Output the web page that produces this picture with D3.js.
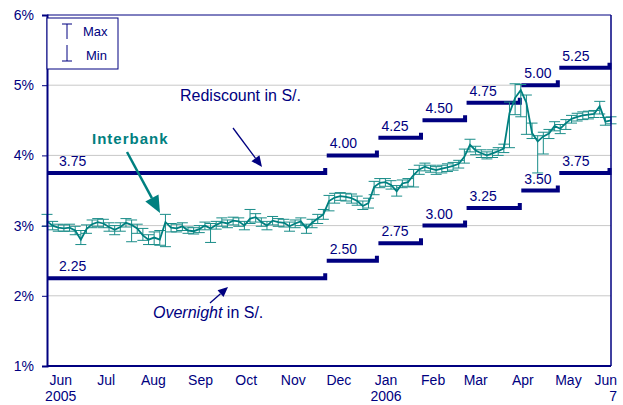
<!DOCTYPE html>
<html>
<head>
<meta charset="utf-8">
<script src="https://cdn.jsdelivr.net/npm/d3@7"></script>
<style>
  body { margin: 0; background: #fff; }
  svg text { font-family: "Liberation Sans", Arial, sans-serif; }
</style>
</head>
<body>
<svg id="chart" width="623" height="405"></svg>
<script>
// Interbank rate vs. BCRP corridor (rediscount / overnight), Jun 2005 - Jun 7 2006

var startDate = "2005-06-01",
    endDate = "2006-06-07";

// dates where the corridor rates changed (last one closes the final step)
var changeDates = ["2005-06-01", "2005-12-02", "2006-01-05", "2006-02-03",
                   "2006-03-04", "2006-04-09", "2006-05-04", "2006-06-07"];
var rediscount = [3.75, 4.00, 4.25, 4.50, 4.75, 5.00, 5.25];
var overnight  = [2.25, 2.50, 2.75, 3.00, 3.25, 3.50, 3.75];

// interbank rate: average, max and min, evenly spaced observations
var interbankAvg = [
  3.06, 3.00, 2.97, 2.96, 2.97, 2.93, 2.80, 2.95, 3.02, 3.05,
  3.03, 2.98, 2.94, 2.98, 3.04, 3.01, 2.96, 2.86, 2.80, 2.83,
  2.80, 3.05, 2.97, 2.96, 2.99, 2.93, 2.92, 2.95, 3.00, 2.96,
  3.01, 3.05, 3.03, 3.07, 3.06, 3.00, 3.10, 3.12, 3.05, 3.00,
  3.07, 3.05, 3.04, 2.99, 3.03, 3.06, 2.96, 3.04, 3.10, 3.16,
  3.35, 3.40, 3.42, 3.41, 3.39, 3.35, 3.28, 3.32, 3.55, 3.61,
  3.62, 3.58, 3.49, 3.60, 3.62, 3.72, 3.80, 3.84, 3.81, 3.79,
  3.81, 3.83, 3.85, 3.88, 3.98, 4.15, 4.07, 4.03, 4.00, 4.03,
  4.06, 4.10, 4.60, 4.82, 4.93, 4.75, 4.32, 4.20, 4.27, 4.31,
  4.42, 4.38, 4.46, 4.52, 4.55, 4.57, 4.58, 4.59, 4.70, 4.48,
  4.50];
var interbankMax = [
  3.16, 3.06, 3.02, 3.01, 3.02, 2.99, 2.93, 3.01, 3.08, 3.10,
  3.09, 3.04, 3.00, 3.04, 3.10, 3.08, 3.02, 2.96, 2.87, 2.91,
  2.93, 3.16, 3.03, 3.02, 3.04, 2.98, 2.97, 3.00, 3.05, 3.03,
  3.06, 3.11, 3.08, 3.12, 3.11, 3.06, 3.23, 3.17, 3.11, 3.06,
  3.13, 3.10, 3.09, 3.05, 3.08, 3.11, 3.02, 3.09, 3.16, 3.23,
  3.43, 3.46, 3.47, 3.46, 3.45, 3.42, 3.35, 3.39, 3.63, 3.67,
  3.67, 3.64, 3.57, 3.65, 3.67, 3.80, 3.86, 3.89, 3.86, 3.84,
  3.86, 3.88, 3.90, 3.93, 4.09, 4.23, 4.13, 4.08, 4.05, 4.08,
  4.11, 4.16, 4.76, 5.02, 5.01, 4.86, 4.46, 4.28, 4.33, 4.37,
  4.48, 4.44, 4.51, 4.57, 4.60, 4.62, 4.63, 4.64, 4.77, 4.54,
  4.55];
var interbankMin = [
  2.99, 2.94, 2.92, 2.92, 2.92, 2.87, 2.73, 2.89, 2.97, 2.99,
  2.97, 2.92, 2.87, 2.92, 2.98, 2.77, 2.89, 2.79, 2.73, 2.73,
  2.72, 2.70, 2.91, 2.91, 2.93, 2.89, 2.88, 2.90, 2.94, 2.76,
  2.95, 2.99, 2.97, 3.01, 2.99, 2.94, 3.03, 3.05, 2.99, 2.94,
  3.01, 2.99, 2.98, 2.92, 2.97, 3.00, 2.89, 2.97, 3.03, 3.09,
  3.21, 3.32, 3.36, 3.35, 3.32, 3.29, 3.23, 3.25, 3.44, 3.54,
  3.56, 3.52, 3.42, 3.54, 3.56, 3.55, 3.73, 3.78, 3.76, 3.73,
  3.75, 3.77, 3.79, 3.82, 3.89, 4.05, 4.01, 3.97, 3.95, 3.97,
  4.00, 4.04, 4.11, 4.58, 4.55, 4.30, 4.24, 3.75, 4.02, 4.24,
  4.35, 4.31, 4.37, 4.46, 4.49, 4.51, 4.52, 4.54, 4.59, 4.43,
  4.45];

var yTicks = [1, 2, 3, 4, 5, 6];
var monthLabels = ["Jun", "Jul", "Aug", "Sep", "Oct", "Nov", "Dec",
                   "Jan", "Feb", "Mar", "Apr", "May"];
var yearLabels = ["2005", "", "", "", "", "", "", "2006", "", "", "", ""];
var endLabels = ["Jun", "7"];

var navy = "#000080",
    teal = "#008080";

var svg = d3.select("#chart"),
    margin = {top: 15, right: 12, bottom: 39, left: 47},
    width = +svg.attr("width") - margin.left - margin.right,
    height = +svg.attr("height") - margin.top - margin.bottom;

var parseDate = d3.timeParse("%Y-%m-%d"),
    t0 = parseDate(startDate),
    t1 = parseDate(endDate);

var x = d3.scaleTime().domain([t0, t1]).range([margin.left, margin.left + width]);
var y = d3.scaleLinear().domain([1, 6]).range([margin.top + height, margin.top]);

var obsDates = interbankAvg.map(function (d, i) {
  return new Date(+t0 + i * (t1 - t0) / (interbankAvg.length - 1));
});
var interbank = interbankAvg.map(function (v, i) {
  return {date: obsDates[i], avg: v, max: interbankMax[i], min: interbankMin[i]};
});

// gridlines
svg.append("g").selectAll("line")
  .data(yTicks.slice(1, -1))
  .enter().append("line")
    .attr("x1", margin.left).attr("x2", margin.left + width)
    .attr("y1", y).attr("y2", y)
    .attr("stroke", "#c8c8c8").attr("stroke-width", 1);

// corridor steps
function steps(values) {
  return values.map(function (v, i) {
    return {v: v, x0: parseDate(changeDates[i]), x1: parseDate(changeDates[i + 1]), i: i};
  });
}

function drawSteps(values) {
  var g = svg.append("g");
  var s = steps(values);
  g.selectAll("path")
    .data(s)
    .enter().append("path")
      .attr("d", function (d) {
        var yy = y(d.v), xe = x(d.x1) - 1.5;
        return "M" + x(d.x0) + "," + yy + "H" + xe + "V" + (yy - 5);
      })
      .attr("fill", "none")
      .attr("stroke", navy)
      .attr("stroke-width", 4);
  g.selectAll("text")
    .data(s)
    .enter().append("text")
      .attr("x", function (d) { return x(d.x0) + (d.i === 0 ? 12 : 3); })
      .attr("y", function (d) { return y(d.v) - 7; })
      .attr("fill", navy)
      .attr("font-size", 14)
      .text(function (d) { return d.v.toFixed(2); });
}
drawSteps(rediscount);
drawSteps(overnight);

// interbank error bars + line
var bars = svg.append("g")
  .attr("stroke", "#1a8d89")
  .attr("stroke-width", 1);
var bar = bars.selectAll("g")
  .data(interbank)
  .enter().append("g");
bar.append("line")
  .attr("x1", function (d) { return x(d.date); })
  .attr("x2", function (d) { return x(d.date); })
  .attr("y1", function (d) { return y(d.max); })
  .attr("y2", function (d) { return y(d.min); });
bar.append("line")
  .attr("x1", function (d) { return x(d.date) - 5.5; })
  .attr("x2", function (d) { return x(d.date) + 5.5; })
  .attr("y1", function (d) { return y(d.max); })
  .attr("y2", function (d) { return y(d.max); });
bar.append("line")
  .attr("x1", function (d) { return x(d.date) - 5.5; })
  .attr("x2", function (d) { return x(d.date) + 5.5; })
  .attr("y1", function (d) { return y(d.min); })
  .attr("y2", function (d) { return y(d.min); });

svg.append("path")
  .datum(interbank)
  .attr("fill", "none")
  .attr("stroke", teal)
  .attr("stroke-width", 1.8)
  .attr("d", d3.line()
    .x(function (d) { return x(d.date); })
    .y(function (d) { return y(d.avg); }));

// frame
svg.append("line")
  .attr("x1", margin.left).attr("x2", margin.left + width)
  .attr("y1", margin.top).attr("y2", margin.top)
  .attr("stroke", navy).attr("stroke-width", 1);
svg.append("line")
  .attr("x1", margin.left + width).attr("x2", margin.left + width)
  .attr("y1", margin.top).attr("y2", margin.top + height)
  .attr("stroke", navy).attr("stroke-width", 1.5);

// y axis
var yAxis = svg.append("g")
  .attr("transform", "translate(" + margin.left + ",0)")
  .call(d3.axisLeft(y).tickValues(yTicks).tickSize(5).tickPadding(8)
    .tickFormat(function (d) { return d + "%"; }));
yAxis.select(".domain").attr("stroke", navy).attr("stroke-width", 2);
yAxis.selectAll(".tick line").attr("stroke", navy);
yAxis.selectAll(".tick text")
  .attr("fill", navy)
  .attr("font-size", 14)
  .attr("font-family", "Liberation Sans, Arial, sans-serif");

// x axis
svg.append("line")
  .attr("x1", margin.left).attr("x2", margin.left + width)
  .attr("y1", margin.top + height).attr("y2", margin.top + height)
  .attr("stroke", navy).attr("stroke-width", 2);

var monthStarts = d3.timeMonth.range(t0, d3.timeMonth.offset(t0, 12));
var xl = svg.append("g")
  .attr("fill", navy)
  .attr("font-size", 14)
  .attr("text-anchor", "middle");
xl.selectAll("text.m")
  .data(monthStarts)
  .enter().append("text")
    .attr("class", "m")
    .attr("x", function (d) { return x(d3.timeDay.offset(d, 9)); })
    .attr("y", 385)
    .text(function (d, i) { return monthLabels[i]; });
xl.selectAll("text.yr")
  .data(monthStarts)
  .enter().append("text")
    .attr("class", "yr")
    .attr("x", function (d) { return x(d3.timeDay.offset(d, 9)); })
    .attr("y", 401)
    .text(function (d, i) { return yearLabels[i]; });
xl.selectAll("text.e")
  .data(endLabels)
  .enter().append("text")
    .attr("class", "e")
    .attr("text-anchor", "end")
    .attr("x", x(t1) + 6)
    .attr("y", function (d, i) { return i === 0 ? 385 : 401; })
    .text(function (d) { return d; });

// legend
var lg = svg.append("g");
lg.append("rect")
  .attr("x", 47).attr("y", 18).attr("width", 71).attr("height", 51)
  .attr("fill", "#fff").attr("stroke", navy).attr("stroke-width", 1);
lg.append("path")
  .attr("d", "M62,24H72M67,24V39M67,45V61M62,61H72")
  .attr("stroke", navy).attr("fill", "none").attr("stroke-width", 1);
lg.append("text").attr("x", 83).attr("y", 35.5).attr("fill", navy)
  .attr("font-size", 13).text("Max");
lg.append("text").attr("x", 86).attr("y", 59.5).attr("fill", navy)
  .attr("font-size", 13).text("Min");

// annotations
function arrow(x1, y1, x2, y2, color, w, headLen, headW) {
  var a = Math.atan2(y2 - y1, x2 - x1),
      bx = x2 - headLen * Math.cos(a),
      by = y2 - headLen * Math.sin(a),
      px = -Math.sin(a) * headW / 2,
      py = Math.cos(a) * headW / 2;
  svg.append("line")
    .attr("x1", x1).attr("y1", y1).attr("x2", bx).attr("y2", by)
    .attr("stroke", color).attr("stroke-width", w);
  svg.append("path")
    .attr("d", "M" + x2 + "," + y2 + "L" + (bx + px) + "," + (by + py) +
               "L" + (bx - px) + "," + (by - py) + "Z")
    .attr("fill", color);
}

svg.append("text")
  .attr("x", 180).attr("y", 101)
  .attr("fill", navy).attr("font-size", 16)
  .text("Rediscount in S/.");
arrow(233, 128, 262, 167, navy, 1.3, 11, 10);

svg.append("text")
  .attr("x", 92).attr("y", 144)
  .attr("fill", teal).attr("font-size", 15).attr("font-weight", "bold")
  .attr("letter-spacing", 1)
  .text("Interbank");
arrow(127, 152, 160, 213, teal, 2.5, 17, 15);

var ov = svg.append("text")
  .attr("x", 153).attr("y", 318)
  .attr("fill", navy).attr("font-size", 16);
ov.append("tspan").attr("font-style", "italic").text("Overnight");
ov.append("tspan").text(" in S/.");
arrow(210, 303, 228, 287, navy, 1.3, 10, 9);
</script>
</body>
</html>
